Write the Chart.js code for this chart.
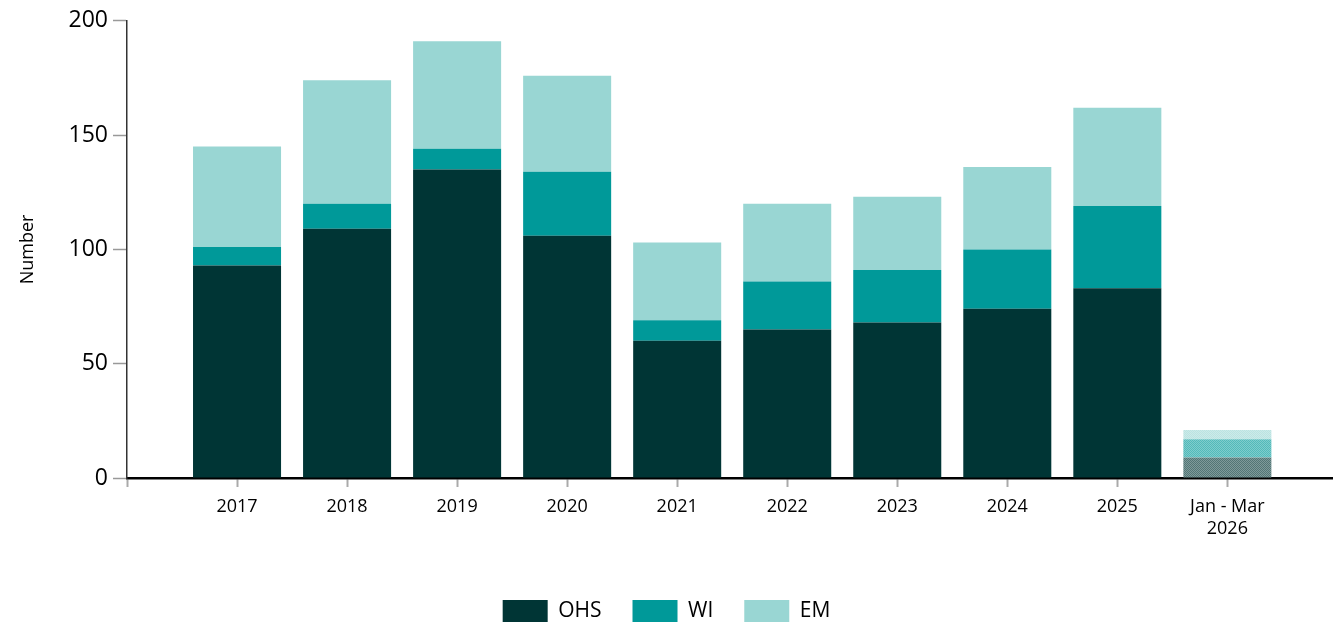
<!DOCTYPE html>
<html>
<head>
<meta charset="utf-8">
<script src="https://cdn.jsdelivr.net/npm/chart.js@4.4.1/dist/chart.umd.min.js"></script>
<style>
  html, body { margin: 0; padding: 0; background: #fff; overflow: hidden; }
  #wrap { width: 1333px; height: 627px; position: relative; overflow: hidden; }
  #inner { width: 1333px; height: 630px; position: absolute; left: 0; top: 2px; }
</style>
</head>
<body>
<div id="wrap"><div id="inner"><canvas id="c"></canvas></div></div>
<script>
const categories = ['2017', '2018', '2019', '2020', '2021', '2022', '2023', '2024', '2025', ['Jan - Mar', '2026']];
const ohs = [93, 109, 135, 106, 60, 65, 68, 74, 83, 9];
const wi  = [8, 11, 9, 28, 9, 21, 23, 26, 36, 8];
const em  = [44, 54, 47, 42, 34, 34, 32, 36, 43, 4];
const yTicks = [0, 50, 100, 150, 200];
const partialIndex = 9;

const colors = { OHS: '#003535', WI: '#009999', EM: '#99D6D3' };

function makePattern(color) {
  const p = document.createElement('canvas');
  p.width = 4; p.height = 4;
  const g = p.getContext('2d');
  g.fillStyle = '#ffffff';
  g.fillRect(0, 0, 4, 4);
  g.globalAlpha = 0.5;
  g.fillStyle = color;
  g.fillRect(0, 0, 4, 4);
  g.globalAlpha = 0.35;
  for (let y = 0; y < 4; y++) {
    for (let x = 0; x < 4; x++) {
      if ((x + y) % 2 === 0) g.fillRect(x, y, 1, 1);
    }
  }
  return g.createPattern(p, 'repeat');
}

function ds(label, values) {
  const solid = colors[label];
  const pat = makePattern(solid);
  return {
    label,
    data: values.map((v, i) => ({ x: i, y: v })),
    backgroundColor: ctx => (ctx.dataIndex === partialIndex ? pat : solid),
    borderWidth: 0,
    barPercentage: 1.0,
    categoryPercentage: 0.8
  };
}

const FONT = "'Open Sans', 'Noto Sans', sans-serif";

new Chart(document.getElementById('c'), {
  type: 'bar',
  data: { datasets: [ds('OHS', ohs), ds('WI', wi), ds('EM', em)] },
  options: {
    responsive: true,
    maintainAspectRatio: false,
    animation: false,
    layout: { padding: { top: 16, right: 0, bottom: 0, left: 0 } },
    plugins: {
      tooltip: { enabled: false },
      legend: {
        position: 'bottom',
        labels: {
          boxWidth: 45,
          boxHeight: 22,
          padding: 31,
          color: '#000',
          font: { family: FONT, size: 21 },
          generateLabels: chart => chart.data.datasets.map((d, i) => ({
            text: d.label,
            fillStyle: colors[d.label],
            strokeStyle: 'rgba(0,0,0,0)',
            lineWidth: 0,
            datasetIndex: i,
            hidden: false
          }))
        }
      }
    },
    scales: {
      x: {
        type: 'linear',
        stacked: true,
        offset: false,
        min: -1,
        max: 9.96,
        afterBuildTicks: s => { s.ticks = [-1].concat(categories.map((c, i) => i)).map(v => ({ value: v })); },
        afterFit: s => { s.height = 91; },
        border: { color: '#000', width: 2.5 },
        grid: { offset: false, drawOnChartArea: false, drawTicks: true, tickLength: 9, tickColor: '#aaa', tickWidth: 2 },
        ticks: {
          autoSkip: false,
          maxRotation: 0,
          padding: 9,
          color: '#000',
          font: { family: FONT, size: 18 },
          callback: v => (v >= 0 && v < categories.length ? categories[v] : '')
        }
      },
      y: {
        stacked: true,
        min: 0,
        max: 200,
        afterBuildTicks: s => { s.ticks = yTicks.map(v => ({ value: v })); },
        afterFit: s => { s.width = 127; },
        border: { color: '#333', width: 1.5 },
        grid: { drawOnChartArea: false, drawTicks: true, tickLength: 14, tickColor: '#999', tickWidth: 1.5 },
        ticks: {
          padding: 5,
          color: '#000',
          font: { family: FONT, size: 23 }
        },
        title: {
          display: true,
          text: 'Number',
          color: '#000',
          font: { family: FONT, size: 18 },
          padding: { top: 17, bottom: 0 }
        }
      }
    }
  }
});
</script>
</body>
</html>
